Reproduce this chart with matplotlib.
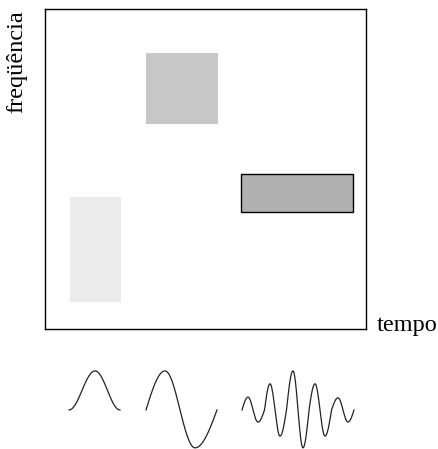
import numpy as np
import matplotlib.pyplot as plt
from matplotlib.patches import Rectangle

# time-frequency tiles (box units 0..1): x0, y0, width, height
tile_x = [0.078, 0.315, 0.611]
tile_y = [0.084, 0.642, 0.366]
tile_w = [0.159, 0.224, 0.349]
tile_h = [0.328, 0.222, 0.119]
tile_colors = ['#ebebeb', '#c6c7c6', '#b0b0b0']
tile_edges = ['none', 'none', 'black']

# waveforms under the box: knots (pixel x, amplitude)
gauss_x = [69, 95, 120]
gauss_v = [0, 1.0, 0]
slow_x = [146, 165, 180, 195, 217]
slow_v = [0, 1.0, 0, -0.97, 0]
fast_x = [242, 248, 253, 258, 264.5, 270, 275, 280, 286.5, 293, 298, 303, 309,
          315, 320, 325, 331.5, 338, 343, 348, 354]
fast_v = [0, 0.33, 0, -0.31, 0, 0.67, 0, -0.67, 0, 1.0, 0, -0.97, 0,
          0.67, 0, -0.67, 0, 0.31, 0, -0.31, 0]

plt.rcParams['font.family'] = 'Liberation Serif'


def wave(xs, vs, smooth_zero):
    px, py = [], []
    for x0, x1, v0, v1 in zip(xs[:-1], xs[1:], vs[:-1], vs[1:]):
        s = np.linspace(0, 1, 60)
        if v0 == 0:
            shape = (1 - np.cos(np.pi * s)) / 2 if smooth_zero else np.sin(np.pi / 2 * s)
            y = v1 * shape
        else:
            shape = (1 + np.cos(np.pi * s)) / 2 if smooth_zero else np.cos(np.pi / 2 * s)
            y = v0 * shape
        px.append(x0 + (x1 - x0) * s)
        py.append(y)
    px = (np.concatenate(px) - 45) / 321
    return px, np.concatenate(py)


fig = plt.figure(figsize=(4.39, 4.49), dpi=100)
ax = fig.add_axes([45 / 439, 1 - 329 / 449, 321 / 439, 320 / 449])
ax.set_xlim(0, 1)
ax.set_ylim(0, 1)
ax.set_xticks([])
ax.set_yticks([])
for sp in ax.spines.values():
    sp.set_linewidth(1.0)

for x0, y0, w, h, c, ec in zip(tile_x, tile_y, tile_w, tile_h, tile_colors, tile_edges):
    ax.add_patch(Rectangle((x0, y0), w, h, facecolor=c, edgecolor=ec, linewidth=1.0))

fig.text(17 / 439, 1 - 62 / 449, 'freqüência', rotation=90, ha='center', va='center', fontsize=17.5)
fig.text(377 / 439, 1 - 331 / 449, 'tempo', ha='left', va='baseline', fontsize=17.5)

# bottom strip with the wavelets, same horizontal scale as the box
wx = fig.add_axes([45 / 439, 0, 321 / 439, 89 / 449])
wx.set_xlim(0, 1)
wx.set_ylim(-1.0, 1.28)
wx.axis('off')

for xs, vs, sm in [(gauss_x, gauss_v, True), (slow_x, slow_v, False), (fast_x, fast_v, False)]:
    t, y = wave(xs, vs, sm)
    wx.plot(t, y, color='#222222', linewidth=0.9, clip_on=False)

fig.savefig('out.png', dpi=100)
